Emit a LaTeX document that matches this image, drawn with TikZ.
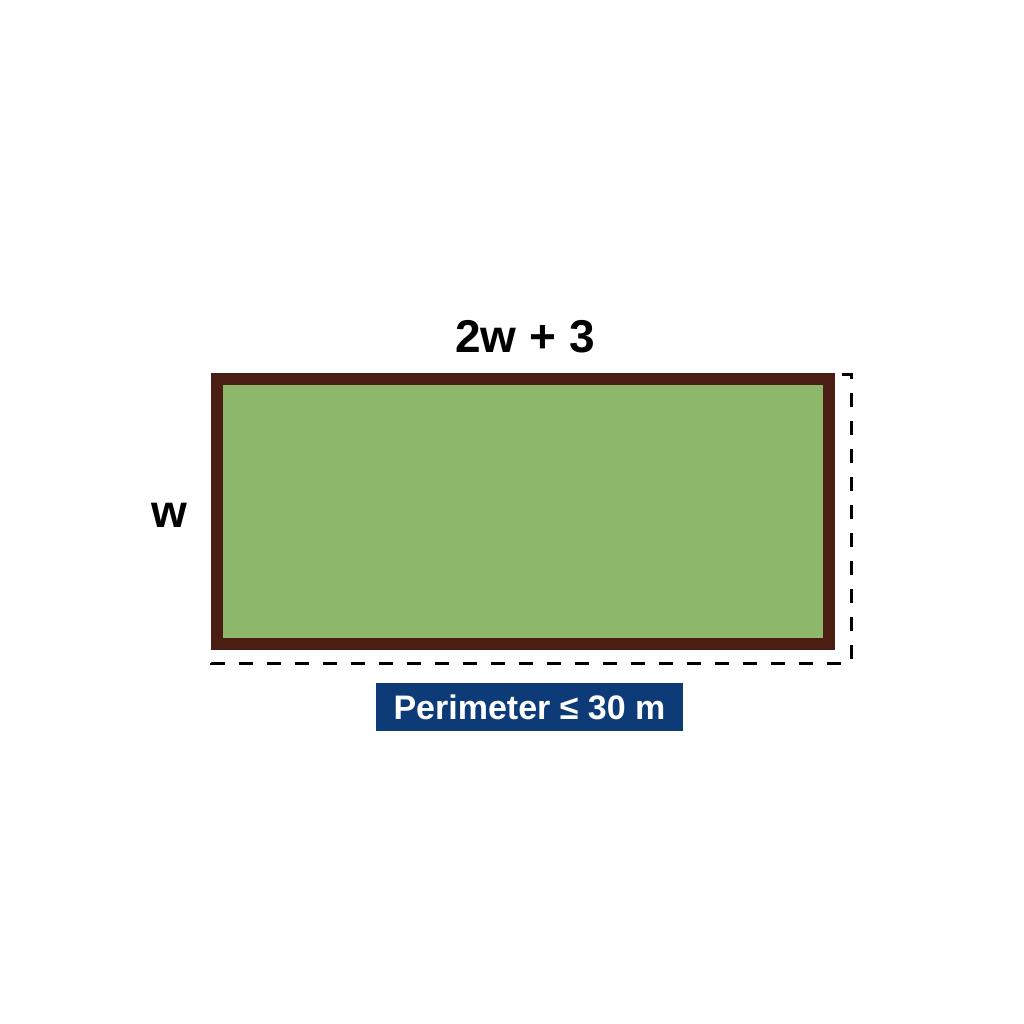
\documentclass[tikz,border=0pt]{standalone}
\usepackage{fontspec}
\setmainfont{Liberation Sans}
\usetikzlibrary{positioning}
\definecolor{fieldgreen}{HTML}{8DB86A}
\definecolor{fencebrown}{HTML}{4A1E12}
\definecolor{tagblue}{HTML}{0D3B77}
\tikzstyle{field} = [draw=fencebrown, fill=fieldgreen, line width=12pt, rectangle, inner sep=0pt, outer sep=6pt, minimum width=612pt, minimum height=265pt]
\tikzstyle{dim} = [font=\fontsize{46}{50}\selectfont\bfseries, inner sep=0pt]
\tikzstyle{tag} = [fill=tagblue, text=white, rectangle, inner sep=0pt, minimum width=307pt, minimum height=48pt, font=\fontsize{34}{38}\selectfont\bfseries]
\tikzstyle{dimline} = [line width=3pt, dash pattern=on 14pt off 14pt]

\begin{document}
\begin{tikzpicture}[x=1pt, y=-1pt]
    % Canvas.
    \fill [white] (0,0) rectangle (1024,1024);
    \useasboundingbox (0,0) rectangle (1024,1024);

    % Field.
    \node (field) [field] at (523,511.5) {};

    % Sides.
    \node (length) [dim, anchor=base] at (525,352) {2w + 3};
    \node (width) [dim, anchor=base] at (169,527) {w};

    % Perimeter.
    \node (perim) [tag, below=33pt of field.south, xshift=6.5pt] {};
    \node (perimtext) [tag, fill=none, anchor=base] at ([yshift=-12pt]perim.center) {Perimeter ≤ 30 m};

    % Dashed outline.
    \draw [dimline] ([xshift=7pt, yshift=-1pt]field.north east)
        -| ([xshift=16pt, yshift=-13pt]field.south east)
        -| ([yshift=-2pt]field.south west);
\end{tikzpicture}
\end{document}
